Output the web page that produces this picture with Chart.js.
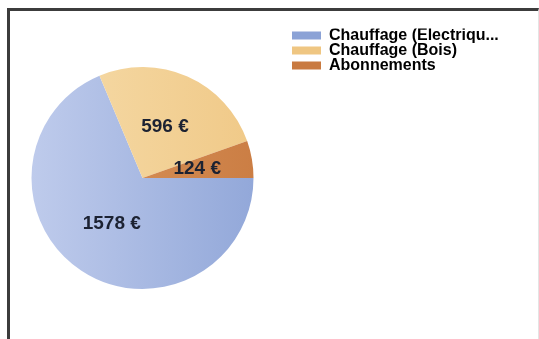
<!DOCTYPE html>
<html>
<head>
<meta charset="utf-8">
<script src="https://cdn.jsdelivr.net/npm/chart.js@4/dist/chart.umd.min.js"></script>
<style>
  html, body { margin: 0; padding: 0; background: #fff; }
  body { width: 539px; height: 339px; position: relative; overflow: hidden; }
  #frame {
    position: absolute; left: 7px; top: 8px; width: 528px; height: 340px;
    border-left: 3px solid #3c3c3c; border-top: 3px solid #3c3c3c;
    border-right: 1px solid #e4e4e4;
  }
  #wrap { position: absolute; left: -8px; top: 0; width: 547px; height: 339px; }
</style>
</head>
<body>
<div id="frame"></div>
<div id="wrap"><canvas id="piechart"></canvas></div>
<script>
const categories = ['Chauffage (Electrique)', 'Chauffage (Bois)', 'Abonnements'];
const amounts = [1578, 596, 124];
// left (light) and right (deep) colour of each slice
const lightColors = ['#c6d1ef', '#f7dfb0', '#dc9a62'];
const deepColors = ['#8ba2d6', '#efc682', '#c97a40'];

const FONT = '"Liberation Sans", Arial, sans-serif';
const legendFont = { family: FONT, size: 16, weight: 'bold' };
const myChart = document.querySelector('#piechart');

function shorten(text, max) {
  return text.length > max ? text.slice(0, max) + '...' : text;
}

// legend sits right of the pie; pad the right side so it starts at x=299
const probe = document.createElement('canvas').getContext('2d');
probe.font = 'bold 16px ' + FONT;
const widest = Math.max(...categories.map(c => probe.measureText(shorten(c, 20)).width));
const legendWidth = -2 + 30 + 8 + widest + 10;
const padRight = Math.max(0, 547 - 302 - legendWidth + 1);

function sliceFill(ctx) {
  const chart = ctx.chart;
  const area = chart.chartArea;
  const i = ctx.dataIndex;
  if (!area) return deepColors[i];
  const g = chart.ctx.createLinearGradient(area.left, 0, area.right, 0);
  g.addColorStop(0, lightColors[i]);
  g.addColorStop(1, deepColors[i]);
  return g;
}

// values written inside each slice
const sliceLabels = {
  id: 'sliceLabels',
  afterDatasetsDraw(chart) {
    const c = chart.ctx;
    const meta = chart.getDatasetMeta(0);
    c.save();
    c.font = 'bold 19px ' + FONT;
    c.fillStyle = '#1c2232';
    c.textAlign = 'center';
    c.textBaseline = 'middle';
    meta.data.forEach((arc, i) => {
      const p = arc.getCenterPoint();
      c.fillText(amounts[i] + ' €', p.x, p.y);
    });
    c.restore();
  }
};

const data = {
  labels: categories,
  datasets: [{
    data: amounts,
    backgroundColor: sliceFill,
    borderWidth: 0,
    radius: 111
  }]
};

const config = {
  type: 'pie',
  data: data,
  plugins: [sliceLabels],
  options: {
    responsive: false,
    animation: false,
    rotation: 90,
    layout: { padding: { left: 1, top: 28.5, bottom: 11.5, right: padRight } },
    plugins: {
      tooltip: { enabled: false },
      legend: {
        position: 'right',
        align: 'start',
        labels: {
          boxWidth: 30,
          boxHeight: 8,
          padding: -1,
          color: '#1a1a1a',
          font: legendFont,
          generateLabels(chart) {
            return chart.data.labels.map((l, i) => ({
              text: shorten(l, 20),
              fillStyle: deepColors[i],
              strokeStyle: deepColors[i],
              lineWidth: 0,
              index: i
            }));
          }
        }
      }
    }
  }
};

myChart.width = 547;
myChart.height = 339;
const pieChart = new Chart(myChart, config);
</script>
</body>
</html>
